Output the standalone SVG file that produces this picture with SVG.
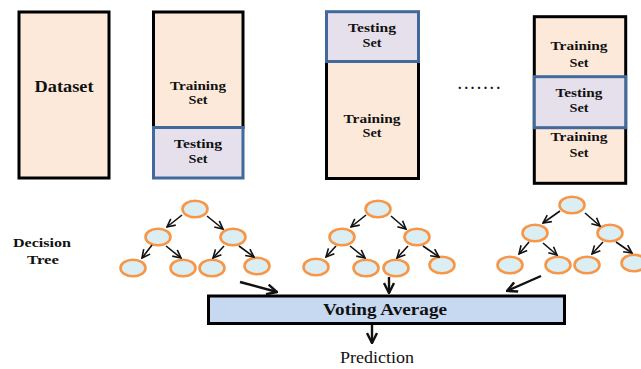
<svg xmlns="http://www.w3.org/2000/svg" width="641" height="369" viewBox="0 0 641 369">
<style>
.train{fill:#fde9d9;stroke:#000;stroke-width:3}
.test{fill:#e5e0ec;stroke:#41699b;stroke-width:3}
text{font-family:'Liberation Serif',Tinos,'Times New Roman','DejaVu Serif',serif}
.lbl{font-weight:bold;fill:#111;text-anchor:middle}
.s13{font-size:13.5px}
.node{fill:#dbeef4;stroke:#f79646;stroke-width:2.6}
.ta{stroke:#111;stroke-width:1.6;fill:none;marker-end:url(#ah)}
.ba{stroke:#111;stroke-width:2.4;fill:none;marker-end:url(#bh)}
</style>
<defs>
<marker id="ah" markerUnits="userSpaceOnUse" markerWidth="10" markerHeight="10" viewBox="0 0 10 10" refX="9" refY="5" orient="auto">
<path d="M1,1 L9,5 L1,9" fill="none" stroke="#111" stroke-width="1.6"/>
</marker>
<marker id="bh" markerUnits="userSpaceOnUse" markerWidth="12" markerHeight="12" viewBox="0 0 12 12" refX="11" refY="6" orient="auto">
<path d="M1,1 L11,6 L1,11" fill="none" stroke="#111" stroke-width="2.4"/>
</marker>
</defs>
<rect width="641" height="369" fill="#fff"/>

<g id="dataset">
<rect class="train" x="19" y="12" width="90" height="166"/>
<text class="lbl" x="64" y="92" font-size="16" textLength="59" lengthAdjust="spacingAndGlyphs">Dataset</text>
</g>

<g id="split1">
<rect class="train" x="153.5" y="12" width="89.5" height="115.5"/>
<rect class="test" x="153.5" y="127.5" width="89.5" height="50.5"/>
<text class="lbl s13" x="198" y="90" textLength="56" lengthAdjust="spacingAndGlyphs">Training</text>
<text class="lbl s13" x="198" y="104" textLength="19" lengthAdjust="spacingAndGlyphs">Set</text>
<text class="lbl s13" x="198" y="148" textLength="48" lengthAdjust="spacingAndGlyphs">Testing</text>
<text class="lbl s13" x="198" y="163" textLength="19" lengthAdjust="spacingAndGlyphs">Set</text>
</g>

<g id="split2">
<rect class="train" x="326.5" y="61.5" width="92" height="117"/>
<rect class="test" x="326.5" y="11.7" width="92" height="49.8"/>
<text class="lbl s13" x="372" y="32" textLength="48" lengthAdjust="spacingAndGlyphs">Testing</text>
<text class="lbl s13" x="372" y="47" textLength="19" lengthAdjust="spacingAndGlyphs">Set</text>
<text class="lbl s13" x="372" y="123" textLength="57" lengthAdjust="spacingAndGlyphs">Training</text>
<text class="lbl s13" x="372" y="137" textLength="19" lengthAdjust="spacingAndGlyphs">Set</text>
</g>

<g id="dots">
<text class="lbl" x="479" y="89" font-size="14" textLength="42" lengthAdjust="spacing">.......</text>
</g>

<g id="splitN">
<rect class="train" x="534.3" y="16.7" width="91.4" height="166.6"/>
<rect class="test" x="534.3" y="76.7" width="91.4" height="51"/>
<text class="lbl s13" x="579" y="50" textLength="57" lengthAdjust="spacingAndGlyphs">Training</text>
<text class="lbl s13" x="579" y="67" textLength="19" lengthAdjust="spacingAndGlyphs">Set</text>
<text class="lbl s13" x="579" y="97" textLength="47" lengthAdjust="spacingAndGlyphs">Testing</text>
<text class="lbl s13" x="579" y="112" textLength="19" lengthAdjust="spacingAndGlyphs">Set</text>
<text class="lbl s13" x="579" y="141" textLength="57" lengthAdjust="spacingAndGlyphs">Training</text>
<text class="lbl s13" x="579" y="157" textLength="19" lengthAdjust="spacingAndGlyphs">Set</text>
</g>

<g id="decision-tree-label">
<text class="lbl s13" x="42" y="247" textLength="58" lengthAdjust="spacingAndGlyphs">Decision</text>
<text class="lbl s13" x="43" y="264" textLength="32" lengthAdjust="spacingAndGlyphs">Tree</text>
</g>

<g id="tree1">
<ellipse id="t1-root" class="node" cx="195" cy="209" rx="12.5" ry="8.2"/>
<ellipse id="t1-l" class="node" cx="158" cy="237" rx="12.5" ry="8.2"/>
<ellipse id="t1-r" class="node" cx="233" cy="237" rx="12.5" ry="8.2"/>
<ellipse id="t1-a" class="node" cx="133" cy="268" rx="12.5" ry="8.2"/>
<ellipse id="t1-b" class="node" cx="183" cy="268" rx="12.5" ry="8.2"/>
<ellipse id="t1-c" class="node" cx="212" cy="268" rx="12.5" ry="8.2"/>
<ellipse id="t1-d" class="node" cx="257" cy="266" rx="12.5" ry="8.2"/>
</g>

<g id="tree2">
<ellipse id="t2-root" class="node" cx="378" cy="209" rx="12.5" ry="8.2"/>
<ellipse id="t2-l" class="node" cx="342" cy="237" rx="12.5" ry="8.2"/>
<ellipse id="t2-r" class="node" cx="417" cy="237" rx="12.5" ry="8.2"/>
<ellipse id="t2-a" class="node" cx="316" cy="267" rx="12.5" ry="8.2"/>
<ellipse id="t2-b" class="node" cx="366" cy="268" rx="12.5" ry="8.2"/>
<ellipse id="t2-c" class="node" cx="396" cy="268" rx="12.5" ry="8.2"/>
<ellipse id="t2-d" class="node" cx="442" cy="265" rx="12.5" ry="8.2"/>
</g>

<g id="tree3">
<ellipse id="t3-root" class="node" cx="572" cy="205" rx="12.5" ry="8.2"/>
<ellipse id="t3-l" class="node" cx="535" cy="233" rx="12.5" ry="8.2"/>
<ellipse id="t3-r" class="node" cx="610" cy="233" rx="12.5" ry="8.2"/>
<ellipse id="t3-a" class="node" cx="510" cy="265" rx="12.5" ry="8.2"/>
<ellipse id="t3-b" class="node" cx="558" cy="265" rx="12.5" ry="8.2"/>
<ellipse id="t3-c" class="node" cx="587" cy="265" rx="12.5" ry="8.2"/>
<ellipse id="t3-d" class="node" cx="634" cy="263" rx="12.5" ry="8.2"/>
</g>

<g id="voting">
<rect x="208.5" y="296" width="356" height="27.5" fill="#c6d9f1" stroke="#000" stroke-width="3"/>
<text class="lbl" x="385" y="315" font-size="16" textLength="124" lengthAdjust="spacingAndGlyphs">Voting Average</text>
</g>

<g id="prediction">
<text x="377" y="363" font-size="16" fill="#111" text-anchor="middle" textLength="74" lengthAdjust="spacingAndGlyphs">Prediction</text>
</g>

<g id="connectors">
<line class="ta" x1="182" y1="215" x2="167" y2="227"/>
<line class="ta" x1="207" y1="216" x2="223" y2="229"/>
<line class="ta" x1="152" y1="245" x2="142" y2="258"/>
<line class="ta" x1="166" y1="246" x2="181" y2="258"/>
<line class="ta" x1="224" y1="246" x2="213" y2="258"/>
<line class="ta" x1="239" y1="246" x2="254" y2="257"/>

<line class="ta" x1="366" y1="215" x2="351" y2="227"/>
<line class="ta" x1="391" y1="216" x2="406" y2="229"/>
<line class="ta" x1="336" y1="246" x2="326" y2="257"/>
<line class="ta" x1="350" y1="246" x2="365" y2="258"/>
<line class="ta" x1="408" y1="246" x2="397" y2="258"/>
<line class="ta" x1="423" y1="246" x2="439" y2="257"/>

<line class="ta" x1="560" y1="211" x2="543" y2="223"/>
<line class="ta" x1="585" y1="213" x2="600" y2="226"/>
<line class="ta" x1="529" y1="242" x2="519" y2="254"/>
<line class="ta" x1="543" y1="243" x2="557" y2="255"/>
<line class="ta" x1="603" y1="242" x2="592" y2="254"/>
<line class="ta" x1="616" y1="242" x2="632" y2="253"/>

<line class="ba" x1="240" y1="282" x2="277" y2="292"/>
<line class="ba" x1="389" y1="277" x2="389" y2="293"/>
<line class="ba" x1="541" y1="276" x2="507" y2="291"/>
<line class="ba" x1="372" y1="325" x2="372" y2="343"/>
</g>
</svg>
